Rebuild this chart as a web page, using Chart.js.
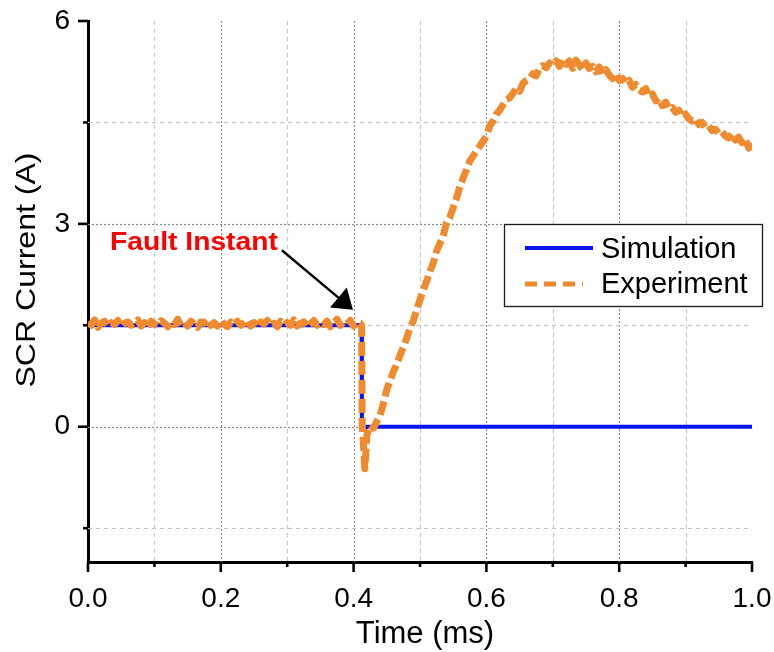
<!DOCTYPE html>
<html>
<head>
<meta charset="utf-8">
<script src="https://cdn.jsdelivr.net/npm/chart.js@4.4.1/dist/chart.umd.min.js"></script>
<style>
  html, body { margin: 0; padding: 0; background: #ffffff; }
  #wrap { width: 774px; height: 652px; }
</style>
</head>
<body>
<div id="wrap"><canvas id="c" width="774" height="652"></canvas></div>
<script>
// ---- axis ticks ----
const xTickValues = [0, 0.1, 0.2, 0.3, 0.4, 0.5, 0.6, 0.7, 0.8, 0.9, 1.0];
const xMajorTicks = [0, 0.2, 0.4, 0.6, 0.8, 1.0];
const yTickValues = [-1.5, 0, 1.5, 3, 4.5, 6];
const yMajorTicks = [0, 3, 6];

// ---- simulated SCR current (A) vs time (ms) ----
const simTime    = [0, 0.412, 0.4125, 0.416, 0.420, 1.0];
const simCurrent = [1.50, 1.50, 0.0, -0.04, 0.0, 0.0];

// ---- measured SCR current (A) vs time (ms) ----
const expTime = [
  0.000,0.005,0.010,0.015,0.020,0.025,0.030,0.035,0.040,0.045,
  0.050,0.055,0.060,0.065,0.070,0.075,0.080,0.085,0.090,0.095,
  0.100,0.105,0.110,0.115,0.120,0.125,0.130,0.135,0.140,0.145,
  0.150,0.155,0.160,0.165,0.170,0.175,0.180,0.185,0.190,0.195,
  0.200,0.205,0.210,0.215,0.220,0.225,0.230,0.235,0.240,0.245,
  0.250,0.255,0.260,0.265,0.270,0.275,0.280,0.285,0.290,0.295,
  0.300,0.305,0.310,0.315,0.320,0.325,0.330,0.335,0.340,0.345,
  0.350,0.355,0.360,0.365,0.370,0.375,0.380,0.385,0.390,0.395,
  0.400,0.405,0.410,
  0.412,0.413,0.417,0.420,0.425,0.430,0.435,0.440,
  0.445,0.450,0.455,0.460,0.465,0.470,0.475,0.480,0.485,0.490,
  0.495,0.500,0.505,0.510,0.515,0.520,0.525,0.530,0.535,0.540,
  0.545,0.550,0.555,0.560,0.565,0.570,0.575,0.580,0.585,0.590,
  0.595,0.600,0.605,0.610,0.615,0.620,0.625,0.630,0.635,0.640,
  0.645,0.650,0.655,0.660,0.665,0.670,0.675,0.680,0.685,0.690,
  0.695,0.700,0.705,0.710,0.715,0.720,0.725,0.730,0.735,0.740,
  0.745,0.750,0.755,0.760,0.765,0.770,0.775,0.780,0.785,0.790,
  0.795,0.800,0.805,0.810,0.815,0.820,0.825,0.830,0.835,0.840,
  0.845,0.850,0.855,0.860,0.865,0.870,0.875,0.880,0.885,0.890,
  0.895,0.900,0.905,0.910,0.915,0.920,0.925,0.930,0.935,0.940,
  0.945,0.950,0.955,0.960,0.965,0.970,0.975,0.980,0.985,0.990,
  0.995,1.000
];
const expCurrent = [
  1.55,1.50,1.58,1.47,1.53,1.56,1.49,1.54,1.51,1.57,
  1.48,1.53,1.55,1.50,1.52,1.58,1.49,1.54,1.47,1.56,
  1.52,1.50,1.57,1.53,1.48,1.55,1.51,1.59,1.50,1.54,
  1.49,1.56,1.52,1.47,1.55,1.53,1.58,1.50,1.54,1.49,
  1.57,1.52,1.48,1.55,1.51,1.56,1.50,1.53,1.58,1.49,
  1.54,1.47,1.55,1.52,1.57,1.50,1.53,1.48,1.56,1.51,
  1.54,1.50,1.58,1.49,1.53,1.55,1.47,1.52,1.57,1.50,
  1.54,1.51,1.56,1.48,1.53,1.59,1.50,1.55,1.52,1.57,
  1.49,1.54,1.53,
  1.50,0.02,-0.62,-0.12,0.02,-0.02,0.08,0.17,
  0.35,0.55,0.68,0.82,0.92,1.06,1.18,1.31,1.46,1.57,
  1.73,1.88,2.02,2.15,2.30,2.42,2.60,2.71,2.82,3.02,
  3.10,3.24,3.38,3.55,3.68,3.80,3.93,4.00,4.08,4.15,
  4.22,4.30,4.45,4.52,4.62,4.68,4.76,4.84,4.86,4.93,
  5.00,4.96,5.08,5.12,5.15,5.22,5.19,5.30,5.34,5.31,
  5.38,5.35,5.41,5.33,5.42,5.36,5.41,5.30,5.42,5.35,
  5.28,5.38,5.30,5.33,5.25,5.32,5.22,5.28,5.20,5.15,
  5.22,5.12,5.15,5.08,5.12,5.02,5.06,4.98,4.95,5.00,
  4.88,4.92,4.82,4.86,4.75,4.80,4.70,4.72,4.65,4.68,
  4.58,4.62,4.55,4.52,4.56,4.47,4.50,4.42,4.45,4.38,
  4.40,4.33,4.36,4.30,4.27,4.33,4.24,4.28,4.20,4.25,
  4.12,4.22
];

// ---- annotation anchor points (data units) ----
const faultLabel = { text: 'Fault Instant', t: 0.033, i: 2.61 };
const faultArrow = { fromT: 0.292, fromI: 2.61, toT: 0.399, toI: 1.73 };

const SIM_COLOR = '#0a14f0';
const EXP_COLOR = '#f08a2e';
const FONT = '"Liberation Sans", Arial, Helvetica, sans-serif';

const isMajor = (v, list) => list.some(m => Math.abs(m - v) < 1e-9);
const toXY = (ts, vs) => ts.map((t, k) => ({ x: t, y: vs[k] }));

// grid lines, tick marks, axis titles, legend and the fault annotation
const decor = {
  id: 'decor',
  beforeDatasetsDraw(chart) {
    const { ctx, chartArea: a, scales: { x, y } } = chart;
    ctx.save();
    ctx.lineWidth = 1.2;
    xTickValues.forEach(v => {
      if (v <= x.min + 1e-9 || v >= x.max - 1e-9) return;
      const major = isMajor(v, xMajorTicks);
      ctx.strokeStyle = major ? '#8c8c8c' : '#c6c6c6';
      ctx.setLineDash(major ? [2, 2] : [4, 4]);
      const p = Math.round(x.getPixelForValue(v)) + 0.5;
      ctx.beginPath(); ctx.moveTo(p, a.top); ctx.lineTo(p, a.bottom); ctx.stroke();
    });
    yTickValues.forEach(v => {
      if (v <= y.min + 1e-9 || v >= y.max - 1e-9) return;
      const major = isMajor(v, yMajorTicks);
      ctx.strokeStyle = major ? '#8c8c8c' : '#c6c6c6';
      ctx.setLineDash(major ? [2, 2] : [4, 4]);
      const p = Math.round(y.getPixelForValue(v)) + 0.5;
      ctx.beginPath(); ctx.moveTo(a.left, p); ctx.lineTo(a.right - 4, p); ctx.stroke();
    });
    ctx.restore();
  },
  afterDraw(chart) {
    const { ctx, chartArea: a, scales: { x, y } } = chart;
    ctx.save();

    // tick marks
    ctx.strokeStyle = '#000';
    ctx.lineWidth = 2.6;
    ctx.setLineDash([]);
    xTickValues.forEach(v => {
      const len = isMajor(v, xMajorTicks) ? 10 : 5;
      const p = x.getPixelForValue(v);
      ctx.beginPath(); ctx.moveTo(p, a.bottom); ctx.lineTo(p, a.bottom + len); ctx.stroke();
    });
    yTickValues.forEach(v => {
      const len = isMajor(v, yMajorTicks) ? 10 : 5;
      const p = y.getPixelForValue(v);
      ctx.beginPath(); ctx.moveTo(a.left, p); ctx.lineTo(a.left - len, p); ctx.stroke();
    });

    // axis titles
    ctx.fillStyle = '#000';
    ctx.font = `31px ${FONT}`;
    ctx.textAlign = 'center';
    ctx.textBaseline = 'alphabetic';
    ctx.fillText('Time (ms)', 425, 643);

    ctx.save();
    ctx.translate(26, 270);
    ctx.rotate(-Math.PI / 2);
    ctx.font = `28px ${FONT}`;
    const yt = 'SCR Current (A)';
    ctx.scale(235 / ctx.measureText(yt).width, 1);
    ctx.textBaseline = 'middle';
    ctx.fillText(yt, 0, 1);
    ctx.restore();

    // legend
    const bx = 504.5, by = 224.5, bw = 258, bh = 82;
    ctx.fillStyle = '#fff';
    ctx.fillRect(bx, by, bw, bh);
    ctx.strokeStyle = '#1a1a1a';
    ctx.lineWidth = 1.3;
    ctx.strokeRect(bx, by, bw, bh);

    ctx.lineCap = 'butt';
    ctx.strokeStyle = SIM_COLOR;
    ctx.lineWidth = 4;
    ctx.beginPath(); ctx.moveTo(525, 248); ctx.lineTo(593, 248); ctx.stroke();
    ctx.strokeStyle = EXP_COLOR;
    ctx.lineWidth = 5;
    ctx.setLineDash([12, 7]);
    ctx.beginPath(); ctx.moveTo(525, 284); ctx.lineTo(583, 284); ctx.stroke();
    ctx.setLineDash([]);

    ctx.fillStyle = '#000';
    ctx.font = `29px ${FONT}`;
    ctx.textAlign = 'left';
    ctx.textBaseline = 'alphabetic';
    ctx.fillText('Simulation', 601, 258);
    ctx.fillText('Experiment', 601, 293);

    // fault annotation
    const lx = x.getPixelForValue(faultLabel.t);
    const ly = y.getPixelForValue(faultLabel.i);
    ctx.save();
    ctx.translate(lx, ly);
    ctx.font = `bold 26px ${FONT}`;
    ctx.scale(168 / ctx.measureText(faultLabel.text).width, 1);
    ctx.fillStyle = '#ff0000';
    ctx.fillText(faultLabel.text, 0, 0);
    ctx.restore();

    const x0 = x.getPixelForValue(faultArrow.fromT), y0 = y.getPixelForValue(faultArrow.fromI);
    const x1 = x.getPixelForValue(faultArrow.toT),   y1 = y.getPixelForValue(faultArrow.toI);
    const ang = Math.atan2(y1 - y0, x1 - x0);
    const headLen = 19, headHalf = 13;
    const bxp = x1 - headLen * Math.cos(ang), byp = y1 - headLen * Math.sin(ang);
    ctx.strokeStyle = '#000';
    ctx.lineWidth = 2.4;
    ctx.beginPath(); ctx.moveTo(x0, y0); ctx.lineTo(bxp, byp); ctx.stroke();
    ctx.fillStyle = '#000';
    ctx.beginPath();
    ctx.moveTo(x1, y1);
    ctx.lineTo(bxp + headHalf * Math.sin(ang), byp - headHalf * Math.cos(ang));
    ctx.lineTo(bxp - headHalf * Math.sin(ang), byp + headHalf * Math.cos(ang));
    ctx.closePath();
    ctx.fill();

    ctx.restore();
  }
};

new Chart(document.getElementById('c'), {
  type: 'line',
  data: {
    datasets: [
      {
        label: 'Experiment',
        data: toXY(expTime, expCurrent),
        borderColor: EXP_COLOR,
        borderWidth: 7,
        borderDash: [14, 5],
        borderCapStyle: 'butt',
        borderJoinStyle: 'round',
        pointRadius: 0,
        tension: 0,
        fill: false,
        order: 0
      },
      {
        label: 'Simulation',
        data: toXY(simTime, simCurrent),
        borderColor: SIM_COLOR,
        borderWidth: 4,
        pointRadius: 0,
        tension: 0,
        fill: false,
        order: 1
      }
    ]
  },
  options: {
    responsive: false,
    animation: false,
    devicePixelRatio: 1,
    layout: { padding: { top: 21, right: 22, left: 0, bottom: 0 } },
    plugins: { legend: { display: false }, tooltip: { enabled: false } },
    scales: {
      x: {
        type: 'linear',
        min: 0, max: 1,
        afterBuildTicks: s => { s.ticks = xTickValues.map(v => ({ value: v })); },
        afterFit: s => { s.height = 90; s.paddingLeft = 0; s.paddingRight = 0; },
        ticks: {
          autoSkip: false, maxRotation: 0, minRotation: 0,
          padding: 10, color: '#000',
          font: { family: FONT, size: 28 },
          callback: v => isMajor(v, xMajorTicks) ? Number(v).toFixed(1) : ''
        },
        grid: { drawOnChartArea: false, drawTicks: true, tickLength: 10, tickColor: 'rgba(0,0,0,0)' },
        border: { display: true, color: '#000', width: 3 }
      },
      y: {
        type: 'linear',
        min: -2, max: 6,
        afterBuildTicks: s => { s.ticks = yTickValues.map(v => ({ value: v })); },
        afterFit: s => { s.width = 88; s.paddingTop = 0; s.paddingBottom = 0; },
        ticks: {
          autoSkip: false, padding: 8, color: '#000',
          font: { family: FONT, size: 28 },
          callback: v => isMajor(v, yMajorTicks) ? String(v) : ''
        },
        grid: { drawOnChartArea: false, drawTicks: true, tickLength: 10, tickColor: 'rgba(0,0,0,0)' },
        border: { display: true, color: '#000', width: 3 }
      }
    }
  },
  plugins: [decor]
});
</script>
</body>
</html>
